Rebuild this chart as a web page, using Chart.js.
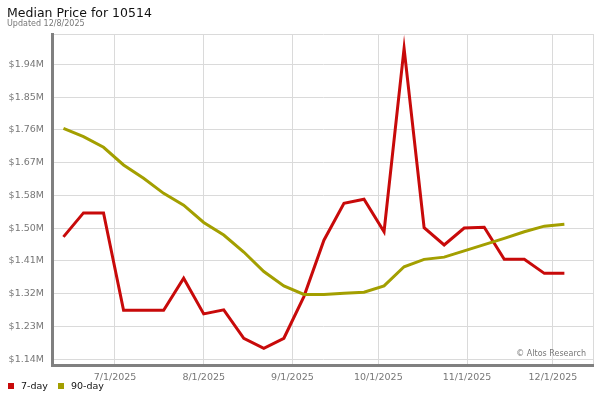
<!DOCTYPE html>
<html>
<head>
<meta charset="utf-8">
<script src="https://cdn.jsdelivr.net/npm/chart.js@4.4.1/dist/chart.umd.min.js"></script>
<style>
  body { margin: 0; background: #fff; font-family: "DejaVu Sans", sans-serif; }
  #wrap { position: relative; width: 600px; height: 400px; }
  #title { position: absolute; left: 7px; top: 7px; font-size: 12.5px; line-height: 1; color: #111; white-space: nowrap; }
  #sub { position: absolute; left: 7px; top: 20px; font-size: 8px; line-height: 1; color: #777; white-space: nowrap; }
  #legend { position: absolute; left: 8px; top: 381px; font-size: 9.5px; line-height: 1; color: #111; white-space: nowrap; }
  #legend span.item { display: inline-block; margin-right: 10px; }
  #legend i { display: inline-block; width: 6px; height: 6px; margin-right: 7px; vertical-align: 0px; }
  #mark { position: absolute; right: 14px; top: 350px; font-size: 8px; line-height: 1; color: #777; white-space: nowrap; }
</style>
</head>
<body>
<div id="wrap">
  <canvas id="chart"></canvas>
  <div id="title">Median Price for 10514</div>
  <div id="sub">Updated 12/8/2025</div>
  <div id="mark">© Altos Research</div>
  <div id="legend"></div>
</div>
<script>
// weekly data, values in $M
const dates = ['2025-06-13', '2025-06-20', '2025-06-27', '2025-07-04', '2025-07-11', '2025-07-18', '2025-07-25',
    '2025-08-01', '2025-08-08', '2025-08-15', '2025-08-22', '2025-08-29', '2025-09-05', '2025-09-12',
    '2025-09-19', '2025-09-26', '2025-10-03', '2025-10-10', '2025-10-17', '2025-10-24', '2025-10-31',
    '2025-11-07', '2025-11-14', '2025-11-21', '2025-11-28', '2025-12-05'];
const sevenDay = [1.472, 1.537, 1.537, 1.273, 1.273, 1.273, 1.360, 1.263, 1.274, 1.197, 1.170, 1.197, 1.310,
    1.463, 1.563, 1.574, 1.486, 1.983, 1.497, 1.450, 1.496, 1.498, 1.411, 1.411, 1.373, 1.373];
const ninetyDay = [1.766, 1.744, 1.715, 1.667, 1.631, 1.590, 1.558, 1.511, 1.477, 1.431, 1.378, 1.339, 1.316,
    1.316, 1.319, 1.322, 1.339, 1.391, 1.411, 1.417, 1.434, 1.451, 1.468, 1.486, 1.501, 1.506];
const seriesNames = ['7-day', '90-day'];
const seriesColors = ['#c80a0a', '#a39f00'];

const xTickDates = ['2025-07-01', '2025-08-01', '2025-09-01', '2025-10-01', '2025-11-01', '2025-12-01'];
const yTickValues = [1.14, 1.2289, 1.3178, 1.4067, 1.4956, 1.5844, 1.6733, 1.7622, 1.8511, 1.94];
const xRange = ['2025-06-09', '2025-12-15'];
const yRange = [1.1245, 2.0222];

function dayNum(s) {
    const [y, m, d] = s.split('-').map(Number);
    return Date.UTC(y, m - 1, d) / 86400000;
}
function fmtDate(n) {
    const d = new Date(n * 86400000);
    return (d.getUTCMonth() + 1) + '/' + d.getUTCDate() + '/' + d.getUTCFullYear();
}

const xMin = dayNum(xRange[0]);
const xMax = dayNum(xRange[1]);
const xMonthTicks = xTickDates.map(dayNum);

const makeSet = (i, values) => ({
    label: seriesNames[i],
    data: values.map((v, k) => ({ x: dayNum(dates[k]), y: v })),
    borderColor: seriesColors[i],
    backgroundColor: seriesColors[i],
    borderWidth: 3,
    pointRadius: 0,
    tension: 0,
    fill: false,
});

const gridColor = '#dadada';
const tickFont = { family: 'DejaVu Sans', size: 9.5 };

new Chart(document.getElementById('chart'), {
    type: 'line',
    data: { datasets: [makeSet(1, ninetyDay), makeSet(0, sevenDay)] },
    options: {
        responsive: true,
        maintainAspectRatio: false,
        animation: false,
        layout: { padding: { top: 34, right: 7, left: 0, bottom: 0 } },
        plugins: { legend: { display: false }, tooltip: { enabled: false } },
        scales: {
            x: {
                type: 'linear',
                min: xMin,
                max: xMax,
                afterBuildTicks: (scale) => {
                    scale.ticks = [xMin, ...xMonthTicks, xMax].map(v => ({ value: v }));
                },
                afterFit: (scale) => { scale.height = 35; },
                grid: { color: gridColor, drawTicks: false },
                border: { color: '#808080', width: 3 },
                ticks: {
                    autoSkip: false,
                    maxRotation: 0,
                    padding: 7,
                    color: '#777',
                    font: tickFont,
                    callback: (v) => (v === xMin || v === xMax) ? '' : fmtDate(v),
                },
            },
            y: {
                min: yRange[0],
                max: yRange[1],
                afterBuildTicks: (scale) => {
                    scale.ticks = [yRange[0], ...yTickValues, yRange[1]].map(v => ({ value: v }));
                },
                afterFit: (scale) => { scale.width = 52; },
                grid: { color: gridColor, drawTicks: false },
                border: { color: '#808080', width: 3 },
                ticks: {
                    autoSkip: false,
                    padding: 8,
                    color: '#777',
                    font: tickFont,
                    callback: (v) => (v === yRange[0] || v === yRange[1]) ? '' : '$' + v.toFixed(2) + 'M',
                },
            },
        },
    },
});

// legend
const legendEl = document.getElementById('legend');
seriesNames.forEach((name, i) => {
    const item = document.createElement('span');
    item.className = 'item';
    item.innerHTML = '<i style="background:' + seriesColors[i] + '"></i>' + name;
    legendEl.appendChild(item);
});
</script>
</body>
</html>
